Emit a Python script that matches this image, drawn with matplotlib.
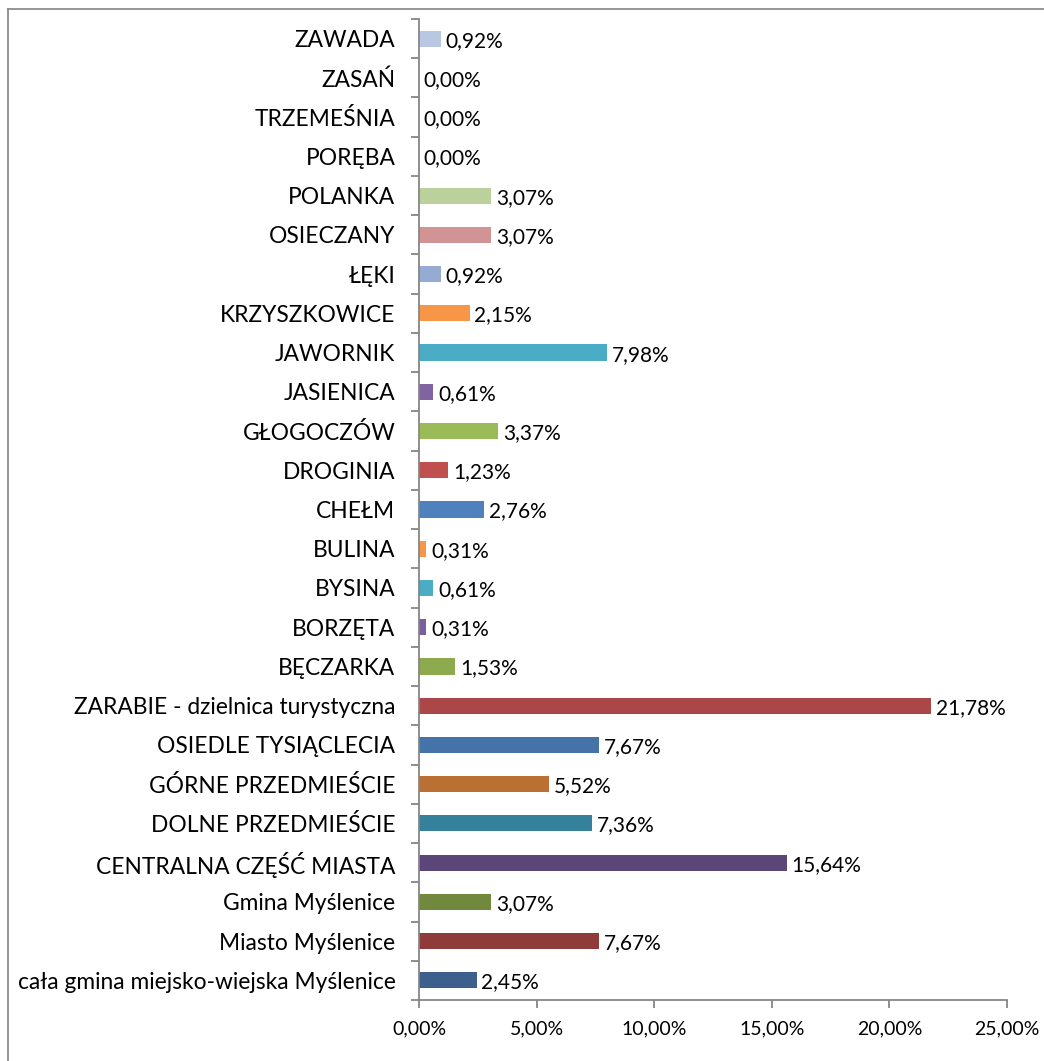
import matplotlib
matplotlib.use("Agg")
import matplotlib.pyplot as plt
from matplotlib.lines import Line2D
from matplotlib.ticker import FixedLocator, FuncFormatter

plt.rcParams["font.family"] = ["Lato", "DejaVu Sans"]

# bottom-to-top order, as the chart reads from the axis upward
categories = [
    "cała gmina miejsko-wiejska Myślenice",
    "Miasto Myślenice",
    "Gmina Myślenice",
    "CENTRALNA CZĘŚĆ MIASTA",
    "DOLNE PRZEDMIEŚCIE",
    "GÓRNE PRZEDMIEŚCIE",
    "OSIEDLE TYSIĄCLECIA",
    "ZARABIE - dzielnica turystyczna",
    "BĘCZARKA",
    "BORZĘTA",
    "BYSINA",
    "BULINA",
    "CHEŁM",
    "DROGINIA",
    "GŁOGOCZÓW",
    "JASIENICA",
    "JAWORNIK",
    "KRZYSZKOWICE",
    "ŁĘKI",
    "OSIECZANY",
    "POLANKA",
    "PORĘBA",
    "TRZEMEŚNIA",
    "ZASAŃ",
    "ZAWADA",
]
values = [2.45, 7.67, 3.07, 15.64, 7.36, 5.52, 7.67, 21.78, 1.53, 0.31, 0.61, 0.31,
          2.76, 1.23, 3.37, 0.61, 7.98, 2.15, 0.92, 3.07, 3.07, 0.00, 0.00, 0.00, 0.92]
colors = [
    "#3C5F8E", "#8E3B3A", "#71893F", "#5B4777", "#35809A", "#B97032", "#4572A7",
    "#AB4746", "#8EAA4E", "#7B5F9C", "#4BACC6", "#F79646", "#4F81BD", "#C0504D",
    "#9BBB59", "#8064A2", "#4BACC6", "#F79646", "#95ABD3", "#D19393", "#BBD09A",
    "#C6D5A8", "#D9A2A2", "#A8BADC", "#B9C7E2",
]
xticks = [0, 5, 10, 15, 20, 25]

fig = plt.figure(figsize=(10.44, 10.61), dpi=100)
ax = fig.add_axes([419 / 1044, 1 - 1000 / 1061, 588 / 1044, 981 / 1061])

pos = list(range(len(categories)))
ax.barh(pos, values, height=0.41, color=colors)
for p, v in zip(pos, values):
    ax.annotate(f"{v:.2f}%".replace(".", ","), (v, p), xytext=(3.5, -1.5),
                textcoords="offset points", va="center", ha="left", fontsize=15)

ax.set_xlim(0, 25)
ax.set_ylim(-0.5, len(categories) - 0.5)
ax.xaxis.set_major_locator(FixedLocator(xticks))
ax.xaxis.set_major_formatter(FuncFormatter(lambda x, _: f"{x:.2f}%".replace(".", ",")))
ax.set_yticks(pos)
ax.set_yticklabels(categories)
ax.yaxis.set_minor_locator(FixedLocator([p - 0.5 for p in pos] + [pos[-1] + 0.5]))

axis_grey = "#868686"
for side in ("top", "right"):
    ax.spines[side].set_visible(False)
for side in ("left", "bottom"):
    ax.spines[side].set_color(axis_grey)
    ax.spines[side].set_linewidth(1.3)
ax.tick_params(axis="y", which="major", length=0, pad=17, labelsize=16.4)
ax.tick_params(axis="y", which="minor", length=6, width=1.3, color=axis_grey)
ax.tick_params(axis="x", which="major", length=6, width=1.3, color=axis_grey,
               pad=9, labelsize=14)

# outer chart frame
frame_grey = "#8C8C8C"
fig.add_artist(Line2D([8 / 1044, 8 / 1044], [0, 1 - 9 / 1061], color=frame_grey, lw=1.3))
fig.add_artist(Line2D([8 / 1044, 1], [1 - 9 / 1061, 1 - 9 / 1061], color=frame_grey, lw=1.3))

fig.savefig("out.png", dpi=100, facecolor="white")
